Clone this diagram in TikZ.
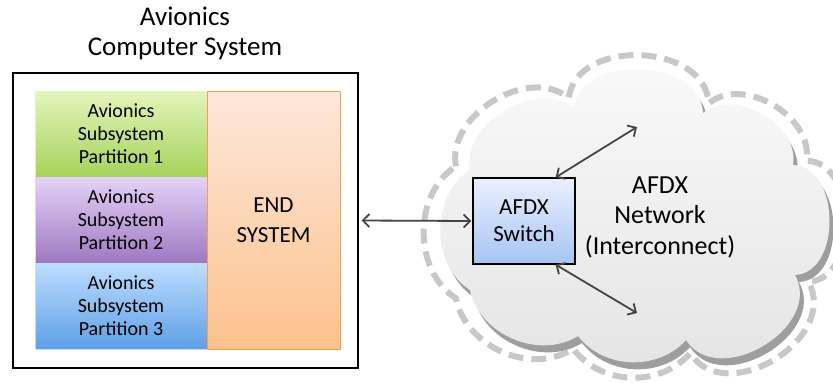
\documentclass[tikz,border=0pt]{standalone}
\usepackage{fontspec}
\setmainfont{Carlito}
\usetikzlibrary{arrows.meta}
\definecolor{arr}{HTML}{454545}
\definecolor{gtop}{HTML}{E4F4BC}\definecolor{gbot}{HTML}{A6D25A}
\definecolor{ptop}{HTML}{E4D2F6}\definecolor{pbot}{HTML}{9E78C2}
\definecolor{btop}{HTML}{BEDDFF}\definecolor{bbot}{HTML}{5E9FE6}
\definecolor{etop}{HTML}{FDE8DA}\definecolor{ebot}{HTML}{FCC28C}\definecolor{eline}{HTML}{F0A050}
\definecolor{stop}{HTML}{EAF0FF}\definecolor{sbot}{HTML}{A6C4F2}
\definecolor{dashgray}{HTML}{C8C8C8}
\tikzset{
  part/.style={rectangle, minimum width=172pt, minimum height=86pt, inner sep=0pt, align=center,
    font=\fontsize{20}{23}\selectfont, line width=0.6pt},
  conn/.style={draw=arr, line width=1.8pt, {Straight Barb[length=6.5pt,width=13pt]}-{Straight Barb[length=6.5pt,width=13pt]}},
}
\newcommand{\cloudpath}{(470,170) to[bend left=70] (574,108) to[bend left=85,looseness=1.1] (703,113)
  to[bend left=70] (793,165) to[bend left=88,looseness=1.1] (795,275)
  to[bend left=88,looseness=1.2] (686,340) to[bend left=50] (578,336)
  to[bend left=55] (470,290) to[bend left=58] cycle}
\begin{document}
\begin{tikzpicture}[x=1pt,y=-1pt]
\useasboundingbox (0,0) rectangle (833,383);
\fill[white] (0,0) rectangle (833,383);
% cloud
\begin{scope}[shift={(636,208)}, xscale=1.085, yscale=1.1, shift={(-636,-208)}]
  \draw[dashgray, line width=6pt, dash pattern=on 15pt off 8pt] \cloudpath;
\end{scope}
\fill[black!38, shift={(4,7)}] \cloudpath;
\shade[top color=black!2, bottom color=black!11] \cloudpath;
\node[align=center, font=\fontsize{26}{30.5}\selectfont] (netlbl) at (660,217) {AFDX\\Network\\(Interconnect)};
% avionics computer system
\node[draw=black, line width=1.3pt, minimum width=345pt, minimum height=295pt, inner sep=0pt] (outer) at (185.5,220.5) {};
\node[align=center, font=\fontsize{27}{30}\selectfont] (title) at (185,33) {Avionics\\Computer System};
\node[part, top color=gtop, bottom color=gbot, draw=gtop] (p1) at (121,134) {Avionics\\Subsystem\\Partition 1};
\node[part, top color=ptop, bottom color=pbot, draw=ptop] (p2) at (121,220) {Avionics\\Subsystem\\Partition 2};
\node[part, top color=btop, bottom color=bbot, draw=btop] (p3) at (121,306) {Avionics\\Subsystem\\Partition 3};
\node[rectangle, minimum width=133pt, minimum height=258pt, inner sep=0pt, top color=etop, bottom color=ebot, draw=eline, line width=1pt, align=center, font=\fontsize{23}{30}\selectfont] (es) at (273.5,220) {END\\SYSTEM};
% switch
\node[rectangle, draw=black, line width=1.2pt, minimum width=102pt, minimum height=86pt, inner sep=0pt, top color=stop, bottom color=sbot, align=center, font=\fontsize{23}{27}\selectfont] (sw) at (524,221) {AFDX\\Switch};
\coordinate (n1) at (637,127);
\coordinate (n2) at (637,313);
\draw[conn, shorten <=3pt, shorten >=1pt] (outer.east) -- (sw.west);
\draw[conn] ([xshift=-20pt]sw.north east) -- (n1);
\draw[conn] ([xshift=-20pt]sw.south east) -- (n2);
\end{tikzpicture}
\end{document}
